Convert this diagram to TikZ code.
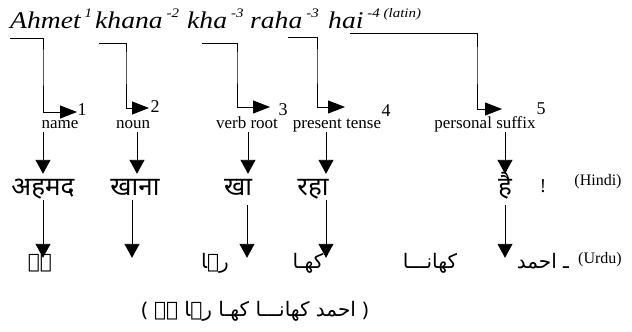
\documentclass[tikz,border=0pt]{standalone}
\usepackage{fontspec}
\setmainfont{Liberation Serif}
\newfontfamily\widefont[FakeStretch=1.15]{Liberation Serif}
\newfontfamily\hindifont[Script=Devanagari]{Noto Sans}
\newfontfamily\urdufont[Script=Arabic]{DejaVu Sans}
\TeXXeTstate=1
\usepackage{tikz}
\usetikzlibrary{arrows.meta}

\newcommand\idx[1]{\raisebox{0.45em}{\fontsize{13}{13}\selectfont #1}}

\begin{document}
\begin{tikzpicture}[x=1pt,y=-1pt,
        word/.style={inner sep=0pt,anchor=base west,font=\fontsize{24}{28}\selectfont\widefont\itshape},
        gloss/.style={inner sep=0pt,anchor=base,text depth=4pt,font=\fontsize{17}{20}\selectfont},
        num/.style={inner sep=0pt,font=\fontsize{18}{20}\selectfont},
        hindi/.style={inner sep=0pt,anchor=base,text height=21pt,text depth=5pt,font=\fontsize{26}{30}\selectfont\hindifont},
        urdu/.style={inner sep=0pt,anchor=base,text height=10pt,font=\fontsize{20}{24}\selectfont\urdufont},
        lang/.style={inner sep=0pt,font=\fontsize{16}{18}\selectfont},
        elbow/.style={line width=0.9pt,-{Triangle[length=17pt,width=13pt]}},
        down/.style={line width=0.9pt,-{Triangle[length=14pt,width=15pt]}}]
        \useasboundingbox (0,0) rectangle (632,332);
        % latin line
        \node[word] (w1) at (10,28) {Ahmet\,\idx{1}};
        \node[word] (w2) at (95,28) {khana\,\idx{-2}};
        \node[word] (w3) at (187,28) {kha\,\idx{-3}};
        \node[word] (w4) at (250,28) {raha\,\idx{-3}};
        \node[word] (w5) at (328,28) {hai\,\idx{-4 (latin)}};
        % glosses
        \node[gloss] (lab1) at (60,128) {name};
        \node[gloss] (lab2) at (133,128) {noun};
        \node[gloss] (lab3) at (247,128) {verb root};
        \node[gloss] (lab4) at (337,128) {present tense};
        \node[gloss] (lab5) at (485,128) {personal suffix};
        \node[num] (n1) at (82,110) {1};
        \node[num] (n2) at (155,107) {2};
        \node[num] (n3) at (283,110) {3};
        \node[num] (n4) at (386,111) {4};
        \node[num] (n5) at (541,109) {5};
        % hindi
        \node[hindi] (hi1) at (43,195) {अहमद};
        \node[hindi] (hi2) at (135,195) {खाना};
        \node[hindi] (hi3) at (238,195) {खा};
        \node[hindi] (hi4) at (313,195) {रहा};
        \node[hindi] (hi5) at (505,195) {है};
        \node[inner sep=0pt,font=\fontsize{18}{20}\selectfont\hindifont] (excl) at (543,186) {!};
        \node[lang] (hindi) at (598,182) {(Hindi)};
        % urdu
        \node[urdu] (u1) at (40,268) {\beginR ہے\endR};
        \node[urdu] (u2) at (215,268) {\beginR رہا\endR};
        \node[urdu] (u3) at (308,268) {\beginR کھـا\endR};
        \node[urdu] (u4) at (430,268) {\beginR کھانـــا\endR};
        \node[urdu] (u5) at (543,268) {\beginR ـ احمد\endR};
        \node[lang] (urdu) at (600,260) {(Urdu)};
        \node[urdu,anchor=center] (line) at (255,314) {{\hindifont(} \beginR احمد کھانـــا کھـا رہا ہے\endR{} {\hindifont)}};
        % elbows
        \coordinate (s1) at (10,38);  \coordinate (b1) at (43,60);  \coordinate (t1) at (77,112);
        \coordinate (s2) at (99,43);  \coordinate (b2) at (126,60); \coordinate (t2) at (149,108);
        \coordinate (s3) at (202,43); \coordinate (b3) at (237,60); \coordinate (t3) at (270,107);
        \coordinate (s4) at (288,37); \coordinate (b4) at (317,60); \coordinate (t4) at (345,107);
        \coordinate (s5) at (350,33); \coordinate (b5) at (477,60); \coordinate (t5) at (502,109);
        \foreach \i in {1,...,5}{
            \draw[elbow] (s\i) -| (b\i) |- (t\i);
        }
        % columns
        \coordinate (c1) at (43,0);  \coordinate (d1) at (43,0);
        \coordinate (c2) at (137,0); \coordinate (d2) at (132,0);
        \coordinate (c3) at (248,0); \coordinate (d3) at (247,0);
        \coordinate (c4) at (326,0); \coordinate (d4) at (326,0);
        \coordinate (c5) at (505,0); \coordinate (d5) at (505,0);
        \foreach \i in {1,...,5}{
            \draw[down] (c\i |- lab\i.south) -- (c\i |- hi\i.north);
        }
        \draw[down] (d1 |- hi1.south) -- (d1 |- u1.north);
        \draw[down] (d2 |- hi2.south) -- (d2 |- u1.north);
        \draw[down,shorten <=5pt] (d3 |- hi3.south) -- (d3 |- u3.north);
        \draw[down] (d4 |- hi4.south) -- (d4 |- u1.north);
        \draw[down,shorten <=5pt] (d5 |- hi5.south) -- (d5 |- u1.north);
    \end{tikzpicture}
\end{document}
